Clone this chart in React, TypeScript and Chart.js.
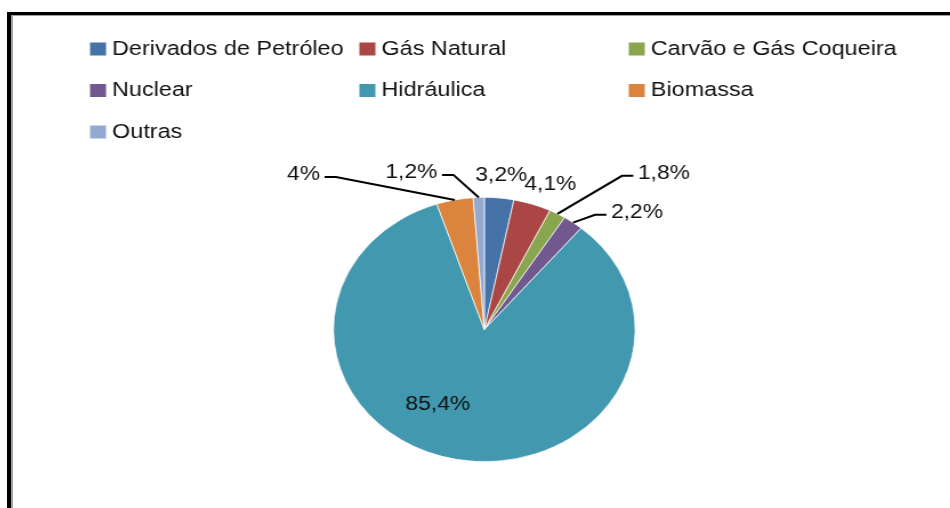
import React, { useEffect, useRef } from "react";
import { Chart, registerables } from "chart.js";

Chart.register(...registerables);

// ---- data ----
const categories = [
  "Derivados de Petróleo",
  "Gás Natural",
  "Carvão e Gás Coqueira",
  "Nuclear",
  "Hidráulica",
  "Biomassa",
  "Outras",
];
const shares = [3.2, 4.1, 1.8, 2.2, 85.4, 4, 1.2];
const colors = ["#4572A7", "#AA4643", "#89A54E", "#71588F", "#4198AF", "#DB843D", "#93A9CF"];

// ---- label placement (polar, relative to pie centre: degrees clockwise from top, multiple of radius) ----
const labelAngles = [5.5, 21.8, 45.3, 48.9, 208.4, 314.3, 337.8];
const labelRadii = [1.168, 1.178, 1.675, 1.343, 0.648, 1.675, 1.28];

const STRETCH = 1.14;
const W = 937;
const H = 492;
const LW = W / STRETCH;
const LABEL_FONT = "20px 'Liberation Sans', Arial, sans-serif";
const LEGEND_FONT = "20.5px 'Liberation Sans', Arial, sans-serif";

const fmt = (v: number) => String(v).replace(".", ",") + "%";

const pieLabels = {
  id: "pieLabels",
  afterDatasetsDraw(chart: any) {
    const meta = chart.getDatasetMeta(0);
    const ctx = chart.ctx as CanvasRenderingContext2D;
    ctx.save();
    ctx.font = LABEL_FONT;
    ctx.textBaseline = "middle";
    ctx.textAlign = "center";
    ctx.fillStyle = "#111";
    ctx.strokeStyle = "#000";
    ctx.lineWidth = 2;
    meta.data.forEach((arc: any, i: number) => {
      const p = arc.getProps(["x", "y", "startAngle", "endAngle", "outerRadius"], true);
      const mid = (p.startAngle + p.endAngle) / 2;
      const ex = p.x + Math.cos(mid) * p.outerRadius;
      const ey = p.y + Math.sin(mid) * p.outerRadius;
      const la = ((labelAngles[i] - 90) * Math.PI) / 180;
      const lx = p.x + Math.cos(la) * p.outerRadius * labelRadii[i];
      const ly = p.y + Math.sin(la) * p.outerRadius * labelRadii[i];
      const text = fmt(shares[i]);
      if (labelRadii[i] > 1.25) {
        const tw = ctx.measureText(text).width;
        const side = lx < p.x ? 1 : -1;
        const tEdge = lx + side * (tw / 2 + 4);
        const elbow = tEdge + side * 10;
        ctx.beginPath();
        ctx.moveTo(ex, ey);
        ctx.lineTo(elbow, ly + 2);
        ctx.lineTo(tEdge, ly + 2);
        ctx.stroke();
      }
      ctx.fillText(text, lx, ly);
    });
    ctx.restore();
  },
};

const gridLegend = {
  id: "gridLegend",
  afterDraw(chart: any) {
    const ctx = chart.ctx as CanvasRenderingContext2D;
    const x0 = 67.5;
    const colW = 236;
    const y0 = 33;
    const rowH = 41.5;
    ctx.save();
    ctx.font = LEGEND_FONT;
    ctx.textBaseline = "middle";
    ctx.textAlign = "left";
    const labels: string[] = chart.data.labels;
    labels.forEach((lab, i) => {
      const col = i % 3;
      const row = Math.floor(i / 3);
      const x = x0 + col * colW;
      const y = y0 + row * rowH;
      ctx.fillStyle = colors[i];
      ctx.fillRect(x, y - 6.5, 14, 13);
      ctx.fillStyle = "#111";
      ctx.fillText(lab, x + 19.3, y);
    });
    ctx.restore();
  },
};

function PieChart() {
  const ref = useRef<HTMLCanvasElement | null>(null);
  useEffect(() => {
    if (!ref.current) return;
    const chart = new Chart(ref.current, {
      type: "pie",
      data: {
        labels: categories,
        datasets: [
          {
            data: shares,
            backgroundColor: colors,
            borderColor: "#ffffff",
            borderWidth: 0.7,
            hoverOffset: 0,
            offset: 0,
          },
        ],
      },
      options: {
        animation: false,
        responsive: true,
        maintainAspectRatio: false,
        layout: { padding: { top: 181, bottom: 46, left: 4, right: 0 } },
        plugins: {
          legend: { display: false },
          tooltip: { enabled: false },
        },
      },
      plugins: [pieLabels, gridLegend],
    });
    return () => chart.destroy();
  }, []);
  return (
    <div
      style={{
        width: LW,
        height: H,
        transform: `scaleX(${STRETCH})`,
        transformOrigin: "0 0",
        position: "relative",
      }}
    >
      <canvas ref={ref} />
    </div>
  );
}

export default function App() {
  return (
    <div
      style={{
        position: "absolute",
        left: 7,
        top: 12,
        width: 950,
        height: 508,
        borderLeft: "4px solid #000",
        borderTop: "3px solid #000",
        background: "#fff",
        overflow: "hidden",
      }}
    >
      <div
        style={{
          width: 950,
          height: 508,
          borderLeft: "2px solid #a0a0a0",
          borderTop: "1px solid #a0a0a0",
          overflow: "hidden",
        }}
      >
        <PieChart />
      </div>
    </div>
  );
}
